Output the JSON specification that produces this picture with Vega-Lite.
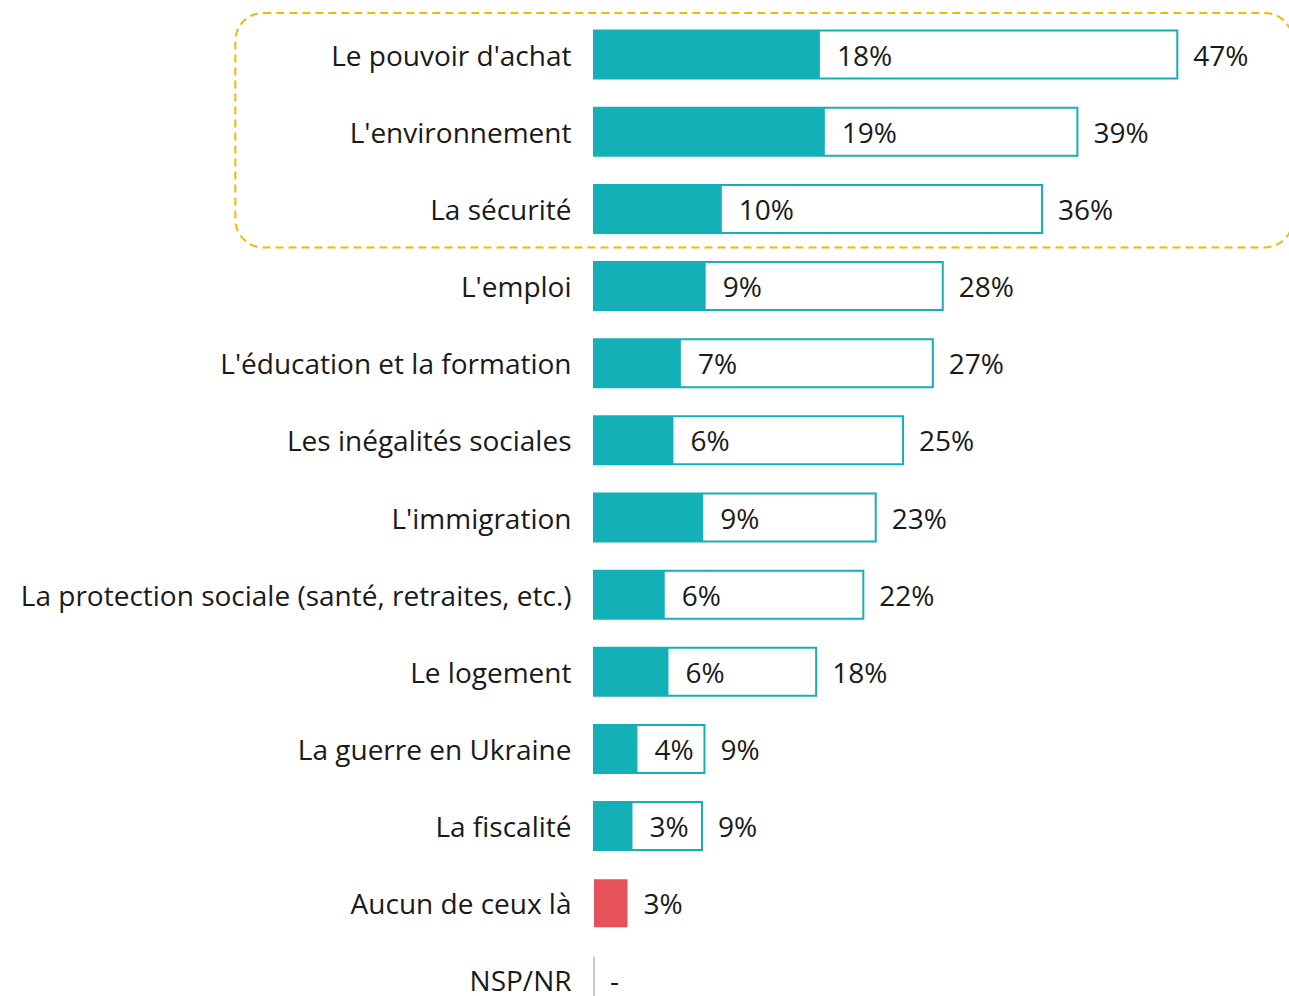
{
  "$schema": "https://vega.github.io/schema/vega-lite/v6.json",
  "width": 695,
  "height": 1003,
  "autosize": {"type": "none"},
  "padding": {"left": 594, "top": 16, "right": 0, "bottom": 0},
  "background": "white",
  "config": {"view": {"stroke": null}, "font": "Open Sans"},
  "datasets": {
    "rows": [
      {"item": "Le pouvoir d'achat", "first": 18.2, "firstLabel": "18%", "total": 47.0, "totalLabel": "47%", "kind": "main"},
      {"item": "L'environnement", "first": 18.6, "firstLabel": "19%", "total": 38.95, "totalLabel": "39%", "kind": "main"},
      {"item": "La sécurité", "first": 10.3, "firstLabel": "10%", "total": 36.1, "totalLabel": "36%", "kind": "main"},
      {"item": "L'emploi", "first": 9.0, "firstLabel": "9%", "total": 28.1, "totalLabel": "28%", "kind": "main"},
      {"item": "L'éducation et la formation", "first": 7.0, "firstLabel": "7%", "total": 27.3, "totalLabel": "27%", "kind": "main"},
      {"item": "Les inégalités sociales", "first": 6.4, "firstLabel": "6%", "total": 24.9, "totalLabel": "25%", "kind": "main"},
      {"item": "L'immigration", "first": 8.8, "firstLabel": "9%", "total": 22.7, "totalLabel": "23%", "kind": "main"},
      {"item": "La protection sociale (santé, retraites, etc.)", "first": 5.7, "firstLabel": "6%", "total": 21.7, "totalLabel": "22%", "kind": "main"},
      {"item": "Le logement", "first": 6.0, "firstLabel": "6%", "total": 17.9, "totalLabel": "18%", "kind": "main"},
      {"item": "La guerre en Ukraine", "first": 3.5, "firstLabel": "4%", "total": 8.9, "totalLabel": "9%", "kind": "main"},
      {"item": "La fiscalité", "first": 3.1, "firstLabel": "3%", "total": 8.7, "totalLabel": "9%", "kind": "main"},
      {"item": "Aucun de ceux là", "first": null, "firstLabel": null, "total": 2.7, "totalLabel": "3%", "kind": "none"},
      {"item": "NSP/NR", "first": null, "firstLabel": null, "total": 0, "totalLabel": "-", "kind": "nsp"}
    ],
    "box": [
      {"x1": -28.9, "x2": 56.3, "top": -0.04, "bottom": 3.0}
    ]
  },
  "layer": [
    {
      "data": {"name": "rows"},
      "encoding": {
        "y": {
          "field": "item",
          "type": "nominal",
          "sort": null,
          "scale": {"paddingInner": 0.378, "paddingOuter": 0.189},
          "axis": {
            "title": null,
            "ticks": false,
            "domain": false,
            "labelPadding": 23,
            "labelOffset": 3,
            "labelFontSize": 28,
            "labelColor": "#1a1a1a",
            "labelFont": "Open Sans",
            "labelLimit": 700
          }
        }
      },
      "layer": [
        {
          "transform": [{"filter": "datum.kind == 'main'"}],
          "mark": {"type": "bar", "fill": "white", "stroke": "#14B0B7", "strokeWidth": 2},
          "encoding": {
            "x": {"field": "total", "type": "quantitative", "scale": {"domain": [0, 56], "nice": false, "zero": true}, "axis": null}
          }
        },
        {
          "transform": [{"filter": "datum.kind == 'main'"}],
          "mark": {"type": "bar", "fill": "#14B0B7"},
          "encoding": {
            "x": {"field": "first", "type": "quantitative"}
          }
        },
        {
          "transform": [{"filter": "datum.kind == 'none'"}],
          "mark": {"type": "bar", "fill": "#E5525A"},
          "encoding": {
            "x": {"field": "total", "type": "quantitative"}
          }
        },
        {
          "transform": [{"filter": "datum.kind == 'nsp'"}],
          "mark": {"type": "bar", "fill": "#bbbbbb", "stroke": "#bbbbbb", "strokeWidth": 1.5},
          "encoding": {
            "x": {"field": "total", "type": "quantitative"}
          }
        },
        {
          "transform": [{"filter": "datum.kind == 'main'"}],
          "mark": {"type": "text", "align": "left", "baseline": "middle", "dx": 17, "dy": 3, "fontSize": 28, "color": "#1a1a1a", "font": "Open Sans"},
          "encoding": {
            "x": {"field": "first", "type": "quantitative"},
            "text": {"field": "firstLabel"}
          }
        },
        {
          "mark": {"type": "text", "align": "left", "baseline": "middle", "dx": 16, "dy": 3, "fontSize": 28, "color": "#1a1a1a", "font": "Open Sans"},
          "encoding": {
            "x": {"field": "total", "type": "quantitative"},
            "text": {"field": "totalLabel"}
          }
        }
      ]
    },
    {
      "data": {"name": "box"},
      "mark": {"type": "rect", "fill": null, "stroke": "#F5B800", "strokeWidth": 2, "strokeDash": [8, 5], "cornerRadius": 28, "clip": false},
      "encoding": {
        "x": {"field": "x1", "type": "quantitative"},
        "x2": {"field": "x2"},
        "y": {"field": "top", "type": "quantitative", "scale": {"domain": [0, 13], "reverse": true, "nice": false, "zero": false}, "axis": null},
        "y2": {"field": "bottom"}
      }
    }
  ],
  "resolve": {"scale": {"y": "independent"}}
}
